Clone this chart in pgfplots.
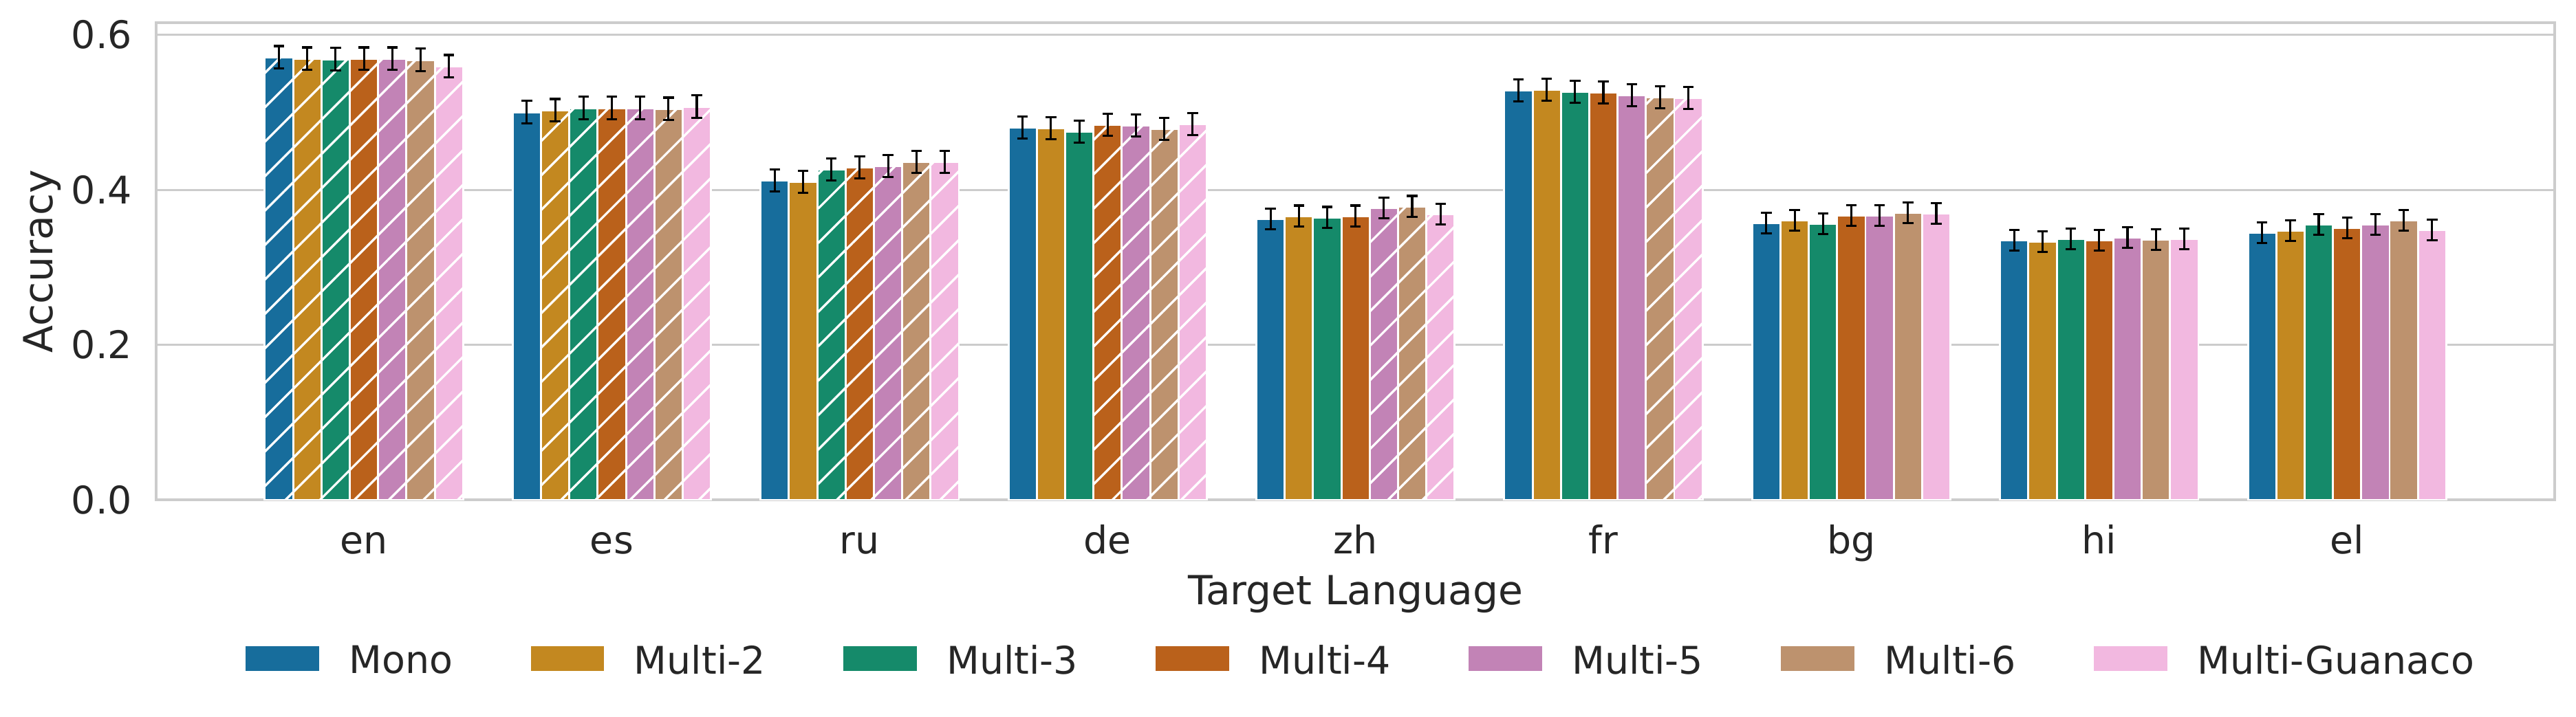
\documentclass[border=0pt]{standalone}
\usepackage{fontspec}
\setmainfont{DejaVu Sans}
\usepackage{pgfplots}
\pgfplotsset{compat=1.18}
\usetikzlibrary{patterns.meta}
\definecolor{c0}{HTML}{176D9C}
\definecolor{c1}{HTML}{C38820}
\definecolor{c2}{HTML}{158A6A}
\definecolor{c3}{HTML}{BA611B}
\definecolor{c4}{HTML}{C283B6}
\definecolor{c5}{HTML}{BD926E}
\definecolor{c6}{HTML}{F2B8E0}
\definecolor{grid80}{HTML}{CCCCCC}
\definecolor{txt}{HTML}{262626}
\tikzset{hatch/.style={postaction={pattern={Lines[angle=45,distance=8.5pt,line width=0.8pt]},pattern color=white}}}
\pgfplotsset{
  barst/.style={fill=#1, draw=white, line width=0.7pt},
  leg/.style={legend image code/.code={\fill[##1,draw=none] (0pt,-3.2pt) rectangle (25.6pt,5.4pt);}},
  errp/.style={draw=none, fill=none, forget plot,
    error bars/.cd, y dir=both, y explicit,
    error bar style={draw=black, line width=0.75pt},
    error mark options={rotate=90, mark size=1.85pt, line width=0.8pt, black}},
}
\begin{document}
\begin{tikzpicture}
\path[use as bounding box] (-54.5pt,-75.6pt) rectangle (844.3pt,174.5pt);
\begin{axis}[
  width=836.9pt, height=166.6pt, scale only axis,
  xmin=-0.838, xmax=8.838, ymin=0, ymax=0.6157,
  ybar, bar width=0.114286,
  xtick={0,1,2,3,4,5,6,7,8},
  xticklabels={en,es,ru,de,zh,fr,bg,hi,el},
  ytick={0,0.2,0.4,0.6},
  yticklabels={0.0,0.2,0.4,0.6},
  major tick length=0pt,
  ymajorgrids,
  major grid style={draw=grid80, line width=0.75pt},
  axis line style={draw=grid80, line width=0.9pt},
  tick label style={font=\fontsize{13.3pt}{16pt}\selectfont, text=txt},
  xticklabel style={anchor=base, inner sep=0pt, yshift=-18.7pt},
  yticklabel style={anchor=east, inner sep=0pt, xshift=-8.2pt},
  xlabel={Target Language}, ylabel={Accuracy},
  every axis x label/.style={at={(axis description cs:0.5,0)}, anchor=base, yshift=-36.5pt,
    font=\fontsize{14pt}{17pt}\selectfont, text=txt},
  every axis y label/.style={at={(axis description cs:-0.04314,0.5)}, rotate=90, anchor=base,
    font=\fontsize{14pt}{17pt}\selectfont, text=txt},
  legend columns=7,
  legend style={at={(axis description cs:0.03728,-0.3045)}, anchor=north west,
    draw=none, fill=none, inner sep=0pt, outer sep=0pt,
    nodes={inner sep=0pt, text=txt},
    font=\fontsize{13.3pt}{16pt}\selectfont,
    /tikz/every odd column/.append style={column sep=10.5pt},
    /tikz/every even column/.append style={column sep=27.2pt}},
]
% plain bars
\addplot[barst=c0, bar shift=-0.342857, leg] coordinates {(1,0.5002) (2,0.4121) (3,0.4804) (4,0.3625) (5,0.5283) (6,0.3572) (7,0.3350) (8,0.3448)};
\addlegendentry{Mono}
\addplot[barst=c1, bar shift=-0.228571, leg] coordinates {(2,0.4104) (3,0.4795) (4,0.3663) (5,0.5292) (6,0.3607) (7,0.3332) (8,0.3474)};
\addlegendentry{Multi-2}
\addplot[barst=c2, bar shift=-0.114286, leg] coordinates {(3,0.4751) (4,0.3643) (5,0.5265) (6,0.3563) (7,0.3368) (8,0.3554)};
\addlegendentry{Multi-3}
\addplot[barst=c3, bar shift=0, leg] coordinates {(4,0.3663) (5,0.5256) (6,0.3669) (7,0.3350) (8,0.3510)};
\addlegendentry{Multi-4}
\addplot[barst=c4, bar shift=0.114286, leg] coordinates {(5,0.5221) (6,0.3669) (7,0.3386) (8,0.3554)};
\addlegendentry{Multi-5}
\addplot[barst=c5, bar shift=0.228571, leg] coordinates {(6,0.3705) (7,0.3359) (8,0.3607)};
\addlegendentry{Multi-6}
\addplot[barst=c6, bar shift=0.342857, leg] coordinates {(6,0.3696) (7,0.3368) (8,0.3483)};
\addlegendentry{Multi-Guanaco}
% hatched bars
\addplot[barst=c0, bar shift=-0.342857, hatch, forget plot] coordinates {(0,0.5711)};
\addplot[barst=c1, bar shift=-0.228571, hatch, forget plot] coordinates {(0,0.5693) (1,0.5028)};
\addplot[barst=c2, bar shift=-0.114286, hatch, forget plot] coordinates {(0,0.5685) (1,0.5055) (2,0.4263)};
\addplot[barst=c3, bar shift=0, hatch, forget plot] coordinates {(0,0.5693) (1,0.5055) (2,0.4290) (3,0.4839)};
\addplot[barst=c4, bar shift=0.114286, hatch, forget plot] coordinates {(0,0.5693) (1,0.5055) (2,0.4308) (3,0.4831) (4,0.3767)};
\addplot[barst=c5, bar shift=0.228571, hatch, forget plot] coordinates {(0,0.5676) (1,0.5046) (2,0.4361) (3,0.4786) (4,0.3785) (5,0.5194)};
\addplot[barst=c6, bar shift=0.342857, hatch, forget plot] coordinates {(0,0.5596) (1,0.5073) (2,0.4361) (3,0.4848) (4,0.3687) (5,0.5185)};
% error bars
\addplot[bar shift=-0.342857, errp] coordinates {
 (0,0.5711) +- (0,0.0145) (1,0.5002) +- (0,0.0145) (2,0.4121) +- (0,0.014) (3,0.4804) +- (0,0.014) (4,0.3625) +- (0,0.0135)
 (5,0.5283) +- (0,0.014) (6,0.3572) +- (0,0.0133) (7,0.3350) +- (0,0.0133) (8,0.3448) +- (0,0.0133)};
\addplot[bar shift=-0.228571, errp] coordinates {
 (0,0.5693) +- (0,0.0145) (1,0.5028) +- (0,0.0145) (2,0.4104) +- (0,0.014) (3,0.4795) +- (0,0.014) (4,0.3663) +- (0,0.0135)
 (5,0.5292) +- (0,0.014) (6,0.3607) +- (0,0.0133) (7,0.3332) +- (0,0.0133) (8,0.3474) +- (0,0.0133)};
\addplot[bar shift=-0.114286, errp] coordinates {
 (0,0.5685) +- (0,0.0145) (1,0.5055) +- (0,0.0145) (2,0.4263) +- (0,0.014) (3,0.4751) +- (0,0.014) (4,0.3643) +- (0,0.0135)
 (5,0.5265) +- (0,0.014) (6,0.3563) +- (0,0.0133) (7,0.3368) +- (0,0.0133) (8,0.3554) +- (0,0.0133)};
\addplot[bar shift=0, errp] coordinates {
 (0,0.5693) +- (0,0.0145) (1,0.5055) +- (0,0.0145) (2,0.4290) +- (0,0.014) (3,0.4839) +- (0,0.014) (4,0.3663) +- (0,0.0135)
 (5,0.5256) +- (0,0.014) (6,0.3669) +- (0,0.0133) (7,0.3350) +- (0,0.0133) (8,0.3510) +- (0,0.0133)};
\addplot[bar shift=0.114286, errp] coordinates {
 (0,0.5693) +- (0,0.0145) (1,0.5055) +- (0,0.0145) (2,0.4308) +- (0,0.014) (3,0.4831) +- (0,0.014) (4,0.3767) +- (0,0.0135)
 (5,0.5221) +- (0,0.014) (6,0.3669) +- (0,0.0133) (7,0.3386) +- (0,0.0133) (8,0.3554) +- (0,0.0133)};
\addplot[bar shift=0.228571, errp] coordinates {
 (0,0.5676) +- (0,0.0145) (1,0.5046) +- (0,0.0145) (2,0.4361) +- (0,0.014) (3,0.4786) +- (0,0.014) (4,0.3785) +- (0,0.0135)
 (5,0.5194) +- (0,0.014) (6,0.3705) +- (0,0.0133) (7,0.3359) +- (0,0.0133) (8,0.3607) +- (0,0.0133)};
\addplot[bar shift=0.342857, errp] coordinates {
 (0,0.5596) +- (0,0.0145) (1,0.5073) +- (0,0.0145) (2,0.4361) +- (0,0.014) (3,0.4848) +- (0,0.014) (4,0.3687) +- (0,0.0135)
 (5,0.5185) +- (0,0.014) (6,0.3696) +- (0,0.0133) (7,0.3368) +- (0,0.0133) (8,0.3483) +- (0,0.0133)};
\end{axis}
\end{tikzpicture}
\end{document}
